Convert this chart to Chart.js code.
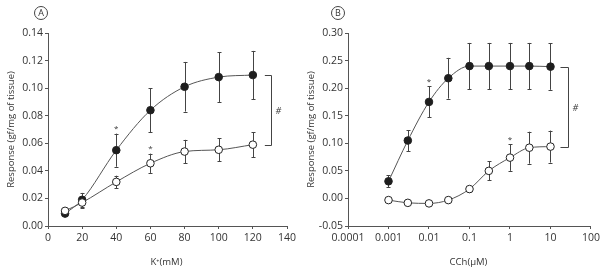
<!DOCTYPE html>
<html>
<head>
<meta charset="utf-8">
<script src="https://cdn.jsdelivr.net/npm/chart.js@4"></script>
<style>
  html, body { margin: 0; padding: 0; background: #fff; }
  #wrap { position: relative; width: 603px; height: 269px; }
  .panel { position: absolute; top: 0; height: 269px; }
</style>
</head>
<body>
<div id="wrap">
  <div class="panel" style="left:0;width:300px"><canvas id="chartA"></canvas></div>
  <div class="panel" style="left:300px;width:303px"><canvas id="chartB"></canvas></div>
</div>
<script>
// Panel A: K+ (mM)
const kConc = [10, 20, 40, 60, 80, 100, 120];
const kFilled = [0.009, 0.019, 0.055, 0.084, 0.101, 0.108, 0.1095];
const kFilledErr = [0.002, 0.005, 0.012, 0.016, 0.018, 0.018, 0.0175];
const kOpen = [0.011, 0.017, 0.032, 0.0455, 0.054, 0.0553, 0.059];
const kOpenErr = [0.002, 0.004, 0.0045, 0.007, 0.0085, 0.0085, 0.009];
const kStarsFilled = [40];
const kStarsOpen = [60];
const kTicksX = [0, 20, 40, 60, 80, 100, 120, 140];
const kTicksY = [0, 0.02, 0.04, 0.06, 0.08, 0.10, 0.12, 0.14];
const kTickLabelsY = ['0.00', '0.02', '0.04', '0.06', '0.08', '0.10', '0.12', '0.14'];

// Panel B: CCh (uM)
const cchConc = [0.001, 0.003, 0.01, 0.03, 0.1, 0.3, 1, 3, 10];
const cchFilled = [0.031, 0.105, 0.175, 0.218, 0.240, 0.240, 0.240, 0.240, 0.239];
const cchFilledErr = [0.011, 0.019, 0.028, 0.037, 0.042, 0.042, 0.042, 0.042, 0.042];
const cchOpen = [-0.003, -0.008, -0.009, -0.003, 0.017, 0.050, 0.074, 0.092, 0.094];
const cchOpenErr = [0.002, 0.002, 0.002, 0.002, 0.005, 0.017, 0.024, 0.029, 0.029];
const cchStarsFilled = [0.01];
const cchStarsOpen = [1];
const cchTicksX = [0.0001, 0.001, 0.01, 0.1, 1, 10, 100];
const cchTickLabelsX = ['0.0001', '0.001', '0.01', '0.1', '1', '10', '100'];
const cchTicksY = [-0.05, 0, 0.05, 0.10, 0.15, 0.20, 0.25, 0.30];
const cchTickLabelsY = ['-0.05', '0.00', '0.05', '0.10', '0.15', '0.20', '0.25', '0.30'];

const FONT = '"Open Sans", "DejaVu Sans", sans-serif';
const AXIS = '#555';
const TEXT = '#333';

function pts(xs, ys) {
  return xs.map((x, i) => ({ x: x, y: ys[i] }));
}

// error bars, stars, bracket, panel letter and axis titles
function decorations(p) {
  return {
    id: 'decor' + p.letter,
    beforeDatasetsDraw(chart) {
      const ctx = chart.ctx;
      const xs = chart.scales.x, ys = chart.scales.y;
      ctx.save();
      ctx.strokeStyle = '#444';
      ctx.lineWidth = 1;
      p.series.forEach(s => {
        s.y.forEach((v, i) => {
          const px = Math.round(xs.getPixelForValue(p.conc[i])) + 0.5;
          const top = ys.getPixelForValue(v + s.err[i]);
          const bot = ys.getPixelForValue(v - s.err[i]);
          ctx.beginPath();
          ctx.moveTo(px, top); ctx.lineTo(px, bot);
          ctx.moveTo(px - 2, Math.round(top) + 0.5); ctx.lineTo(px + 2, Math.round(top) + 0.5);
          ctx.moveTo(px - 2, Math.round(bot) + 0.5); ctx.lineTo(px + 2, Math.round(bot) + 0.5);
          ctx.stroke();
        });
      });
      ctx.restore();
    },
    afterDraw(chart) {
      const ctx = chart.ctx;
      const xs = chart.scales.x, ys = chart.scales.y;
      const area = chart.chartArea;
      ctx.save();
      ctx.fillStyle = TEXT;
      ctx.strokeStyle = '#444';
      ctx.lineWidth = 1;

      // asterisks
      ctx.font = '8px ' + FONT;
      ctx.textAlign = 'center';
      ctx.textBaseline = 'middle';
      p.series.forEach(s => {
        s.stars.forEach(x => {
          const i = p.conc.indexOf(x);
          const top = ys.getPixelForValue(s.y[i] + s.err[i]);
          ctx.fillText('*', xs.getPixelForValue(x), top - 5);
        });
      });

      // significance bracket
      const last = p.conc.length - 1;
      const bx0 = xs.getPixelForValue(p.conc[last]) + p.bracketGap;
      const bx1 = Math.round(bx0 + p.bracketW) + 0.5;
      const by0 = Math.round(ys.getPixelForValue(p.series[0].y[last])) + 0.5;
      const by1 = Math.round(ys.getPixelForValue(p.series[1].y[last])) + 0.5;
      ctx.beginPath();
      ctx.moveTo(bx0, by0); ctx.lineTo(bx1, by0); ctx.lineTo(bx1, by1); ctx.lineTo(bx0, by1);
      ctx.stroke();
      ctx.font = 'italic 9px ' + FONT;
      ctx.fillText('#', bx1 + 7, (by0 + by1) / 2 + 1);

      // panel letter
      ctx.beginPath();
      ctx.arc(p.letterX, 13, 6.5, 0, Math.PI * 2);
      ctx.stroke();
      ctx.font = '9px ' + FONT;
      ctx.fillText(p.letter, p.letterX, 13.5);

      // axis titles
      ctx.font = '9.5px ' + FONT;
      ctx.fillText(p.xTitle, (area.left + area.right) / 2 - 1, 262);
      ctx.translate(11, (area.top + area.bottom) / 2);
      ctx.rotate(-Math.PI / 2);
      ctx.fillText('Response (gf/mg of tissue)', 0, 0);
      ctx.restore();
    }
  };
}

function makeChart(id, p) {
  const lineStyle = { borderColor: '#555', borderWidth: 1, cubicInterpolationMode: 'monotone', pointRadius: 3.8, pointBorderWidth: 1, pointBorderColor: '#222' };
  return new Chart(document.getElementById(id), {
    type: 'line',
    data: {
      datasets: [
        Object.assign({ label: 'open', data: pts(p.conc, p.series[1].y), pointBackgroundColor: '#fff' }, lineStyle),
        Object.assign({ label: 'filled', data: pts(p.conc, p.series[0].y), pointBackgroundColor: '#1e1e1e' }, lineStyle)
      ]
    },
    options: {
      responsive: true,
      maintainAspectRatio: false,
      animation: false,
      layout: { padding: { top: 33, right: p.padRight, left: 0, bottom: 0 } },
      plugins: { legend: { display: false }, tooltip: { enabled: false } },
      scales: {
        x: {
          type: p.xType,
          min: p.xMin, max: p.xMax,
          afterBuildTicks: s => { s.ticks = p.ticksX.map(v => ({ value: v })); },
          afterFit: s => { s.height = 43; },
          grid: { drawOnChartArea: false, drawTicks: true, tickLength: 3, color: AXIS },
          border: { display: true, color: AXIS, width: 1 },
          ticks: {
            autoSkip: false, maxRotation: 0, padding: 3,
            color: TEXT, font: { family: FONT, size: 10.5 },
            callback: (v, i) => p.tickLabelsX[i]
          }
        },
        y: {
          min: p.yMin, max: p.yMax,
          afterBuildTicks: s => { s.ticks = p.ticksY.map(v => ({ value: v })); },
          afterFit: s => { s.width = 48; },
          grid: { drawOnChartArea: false, drawTicks: true, tickLength: 3, color: AXIS },
          border: { display: true, color: AXIS, width: 1 },
          ticks: {
            autoSkip: false, padding: 2,
            color: TEXT, font: { family: FONT, size: 10.5 },
            callback: (v, i) => p.tickLabelsY[i]
          }
        }
      }
    },
    plugins: [decorations(p)]
  });
}

makeChart('chartA', {
  letter: 'A', letterX: 41, xTitle: 'K\u207a(mM)',
  conc: kConc,
  series: [
    { y: kFilled, err: kFilledErr, stars: kStarsFilled },
    { y: kOpen, err: kOpenErr, stars: kStarsOpen }
  ],
  xType: 'linear', xMin: 0, xMax: 140, ticksX: kTicksX, tickLabelsX: kTicksX.map(String),
  yMin: 0, yMax: 0.14, ticksY: kTicksY, tickLabelsY: kTickLabelsY,
  padRight: 13, bracketGap: 12, bracketW: 6
});

makeChart('chartB', {
  letter: 'B', letterX: 38, xTitle: 'CCh(\u03bcM)',
  conc: cchConc,
  series: [
    { y: cchFilled, err: cchFilledErr, stars: cchStarsFilled },
    { y: cchOpen, err: cchOpenErr, stars: cchStarsOpen }
  ],
  xType: 'logarithmic', xMin: 0.0001, xMax: 100, ticksX: cchTicksX, tickLabelsX: cchTickLabelsX,
  yMin: -0.05, yMax: 0.30, ticksY: cchTicksY, tickLabelsY: cchTickLabelsY,
  padRight: 10, bracketGap: 10, bracketW: 8
});
</script>
</body>
</html>
